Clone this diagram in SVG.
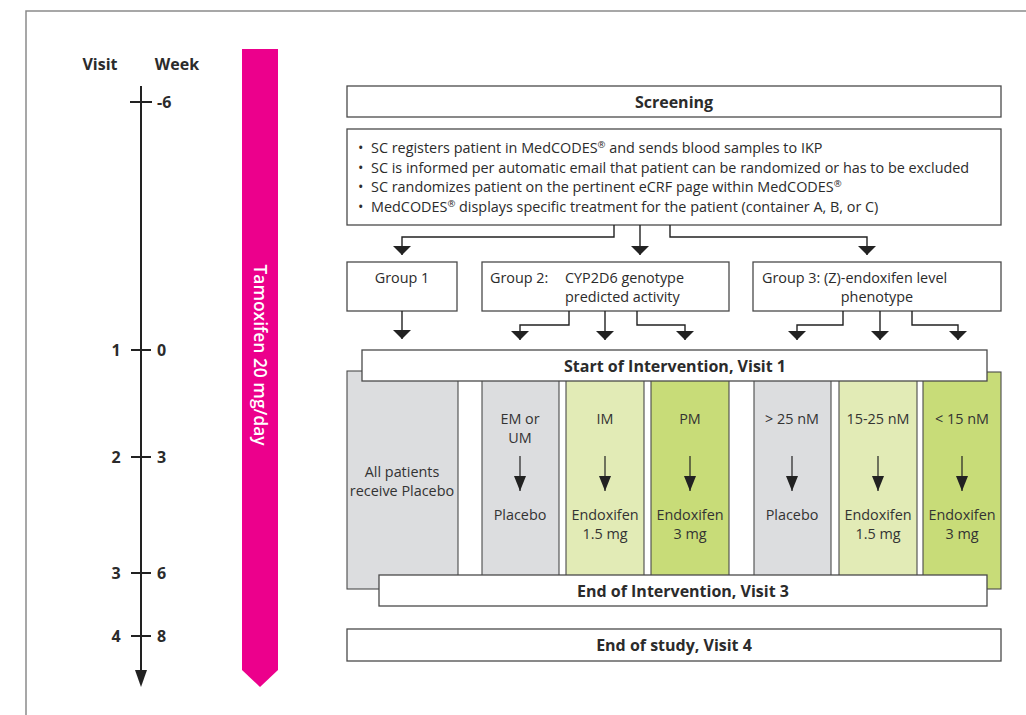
<svg xmlns="http://www.w3.org/2000/svg" width="1026" height="715" viewBox="0 0 1026 715">
  <defs>
    <style>
      text { font-family: "Open Sans", "Noto Sans", "Liberation Sans", sans-serif; fill: #2b2b2b; }
      .h { font-size: 16px; font-weight: 700; }
      .t { font-size: 14.4px; font-weight: 500; }
      .c { font-size: 14.4px; font-weight: 500; text-anchor: middle; fill: #333; }
      .mid { text-anchor: middle; }
      .box { fill: #fff; stroke: #4a4a4a; stroke-width: 1.3; }
      .gray { fill: #dcdddf; stroke: #4a4a4a; stroke-width: 1.1; }
      .lgreen { fill: #e2ebb6; stroke: #4a4a4a; stroke-width: 1.1; }
      .green { fill: #c8dc78; stroke: #4a4a4a; stroke-width: 1.1; }
      .wire { fill: none; stroke: #222; stroke-width: 1.4; }
      .thin { fill: none; stroke: #222; stroke-width: 1.2; }
      .axis { fill: none; stroke: #222; stroke-width: 2; }
    </style>
    <marker id="head" markerUnits="userSpaceOnUse" markerWidth="10" markerHeight="18" refX="9" refY="9" orient="auto" viewBox="0 0 10 18">
      <path d="M0,0 L9,9 L0,18 Z" fill="#222"/>
    </marker>
    <marker id="narrow" markerUnits="userSpaceOnUse" markerWidth="16" markerHeight="12" refX="15" refY="6" orient="auto" viewBox="0 0 16 12">
      <path d="M0,0 L15,6 L0,12 Z" fill="#222"/>
    </marker>
  </defs>

  <!-- frame -->
  <path d="M26,715 V11 H1026" fill="none" stroke="#8a8a8a" stroke-width="1.5"/>

  <!-- timeline -->
  <g id="timeline">
    <text class="h mid" x="100" y="70">Visit</text>
    <text class="h mid" x="177" y="70">Week</text>
    <line class="axis" x1="141" y1="86" x2="141" y2="676"/>
    <path d="M135,670 L147,670 L141,687 Z" fill="#222"/>
    <g stroke="#222" stroke-width="2">
      <line x1="130" y1="102" x2="152" y2="102"/>
      <line x1="131" y1="350" x2="151" y2="350"/>
      <line x1="131" y1="457" x2="151" y2="457"/>
      <line x1="131" y1="573" x2="151" y2="573"/>
      <line x1="131" y1="636" x2="151" y2="636"/>
    </g>
    <text class="h" x="157" y="108">-6</text>
    <text class="h mid" x="116" y="356">1</text>
    <text class="h" x="157" y="356">0</text>
    <text class="h mid" x="116" y="463">2</text>
    <text class="h" x="157" y="463">3</text>
    <text class="h mid" x="116" y="579">3</text>
    <text class="h" x="157" y="579">6</text>
    <text class="h mid" x="116" y="642">4</text>
    <text class="h" x="157" y="642">8</text>
  </g>

  <!-- tamoxifen bar -->
  <g id="tamoxifen">
    <path d="M242,49 H278 V670 L260,687 L242,670 Z" fill="#ec008c"/>
    <text transform="translate(254,355) rotate(90)" text-anchor="middle" font-size="17.4" style="fill:#fff" font-weight="600">Tamoxifen 20 mg/day</text>
  </g>

  <!-- screening -->
  <g id="screening">
    <rect class="box" x="347" y="86" width="654" height="31"/>
    <text class="h mid" x="674" y="107.5">Screening</text>
  </g>

  <g id="procedure">
    <rect class="box" x="347" y="129" width="654" height="96"/>
    <g class="t">
      <text x="358" y="153">•</text>
      <text x="371" y="153">SC registers patient in MedCODES<tspan font-size="9.5" dy="-5">®</tspan><tspan dy="5"> and sends blood samples to IKP</tspan></text>
      <text x="358" y="172.5">•</text>
      <text x="371" y="172.5">SC is informed per automatic email that patient can be randomized or has to be excluded</text>
      <text x="358" y="192">•</text>
      <text x="371" y="192">SC randomizes patient on the pertinent eCRF page within MedCODES<tspan font-size="9.5" dy="-5">®</tspan></text>
      <text x="358" y="211.5">•</text>
      <text x="371" y="211.5">MedCODES<tspan font-size="9.5" dy="-5">®</tspan><tspan dy="5"> displays specific treatment for the patient (container A, B, or C)</tspan></text>
    </g>
  </g>

  <!-- groups -->
  <g id="group1">
    <rect class="box" x="347" y="262" width="110" height="49"/>
    <text class="t mid" x="402" y="283">Group 1</text>
  </g>
  <g id="group2">
    <rect class="box" x="482" y="262" width="247" height="49"/>
    <text class="t" x="490" y="283">Group 2:</text>
    <text class="t" x="565" y="283">CYP2D6 genotype</text>
    <text class="t" x="565" y="302">predicted activity</text>
  </g>
  <g id="group3">
    <rect class="box" x="753" y="262" width="248" height="49"/>
    <text class="t" x="762" y="283">Group 3: (Z)-endoxifen level</text>
    <text class="t mid" x="877" y="302">phenotype</text>
  </g>

  <!-- connectors -->
  <g id="connectors">
    <path class="wire" d="M614,225 V237 H402 V255" marker-end="url(#head)"/>
    <path class="wire" d="M640,225 V255" marker-end="url(#head)"/>
    <path class="wire" d="M670,225 V237 H867 V255" marker-end="url(#head)"/>
    <path class="wire" d="M402,311 V339" marker-end="url(#head)"/>
    <path class="wire" d="M569,311 V325 H520 V340" marker-end="url(#head)"/>
    <path class="wire" d="M605,311 V340" marker-end="url(#head)"/>
    <path class="wire" d="M637,311 V325 H685 V340" marker-end="url(#head)"/>
    <path class="wire" d="M843,311 V325 H797 V340" marker-end="url(#head)"/>
    <path class="wire" d="M880,311 V340" marker-end="url(#head)"/>
    <path class="wire" d="M912,311 V325 H958 V340" marker-end="url(#head)"/>
  </g>

  <!-- treatment columns -->
  <g id="col-group1">
    <rect class="gray" x="347" y="371" width="111" height="218"/>
    <text class="c" x="402" y="477">All patients</text>
    <text class="c" x="402" y="496">receive Placebo</text>
  </g>
  <g id="col-em">
    <rect class="gray" x="482" y="372" width="77" height="210"/>
    <text class="c" x="520" y="424">EM or</text>
    <text class="c" x="520" y="443">UM</text>
    <line class="thin" x1="520" y1="456" x2="520" y2="491" marker-end="url(#narrow)"/>
    <text class="c" x="520" y="520">Placebo</text>
  </g>
  <g id="col-im">
    <rect class="lgreen" x="566" y="372" width="78" height="210"/>
    <text class="c" x="605" y="424">IM</text>
    <line class="thin" x1="605" y1="456" x2="605" y2="491" marker-end="url(#narrow)"/>
    <text class="c" x="605" y="520">Endoxifen</text>
    <text class="c" x="605" y="539">1.5 mg</text>
  </g>
  <g id="col-pm">
    <rect class="green" x="651" y="372" width="78" height="210"/>
    <text class="c" x="690" y="424">PM</text>
    <line class="thin" x1="690" y1="456" x2="690" y2="491" marker-end="url(#narrow)"/>
    <text class="c" x="690" y="520">Endoxifen</text>
    <text class="c" x="690" y="539">3 mg</text>
  </g>
  <g id="col-high">
    <rect class="gray" x="754" y="372" width="77" height="210"/>
    <text class="c" x="792" y="424">&gt; 25 nM</text>
    <line class="thin" x1="792" y1="456" x2="792" y2="491" marker-end="url(#narrow)"/>
    <text class="c" x="792" y="520">Placebo</text>
  </g>
  <g id="col-mid">
    <rect class="lgreen" x="839" y="372" width="78" height="210"/>
    <text class="c" x="878" y="424">15-25 nM</text>
    <line class="thin" x1="878" y1="456" x2="878" y2="491" marker-end="url(#narrow)"/>
    <text class="c" x="878" y="520">Endoxifen</text>
    <text class="c" x="878" y="539">1.5 mg</text>
  </g>
  <g id="col-low">
    <rect class="green" x="923" y="372" width="78" height="217"/>
    <text class="c" x="962" y="424">&lt; 15 nM</text>
    <line class="thin" x1="962" y1="456" x2="962" y2="491" marker-end="url(#narrow)"/>
    <text class="c" x="962" y="520">Endoxifen</text>
    <text class="c" x="962" y="539">3 mg</text>
  </g>

  <!-- intervention bounds -->
  <g id="start-intervention">
    <rect class="box" x="362" y="350" width="625" height="31"/>
    <text class="h mid" x="675" y="371.5">Start of Intervention, Visit 1</text>
  </g>
  <g id="end-intervention">
    <rect class="box" x="379" y="575" width="608" height="31"/>
    <text class="h mid" x="683" y="596.5">End of Intervention, Visit 3</text>
  </g>
  <g id="end-study">
    <rect class="box" x="347" y="629" width="654" height="32"/>
    <text class="h mid" x="674" y="651">End of study, Visit 4</text>
  </g>
</svg>
